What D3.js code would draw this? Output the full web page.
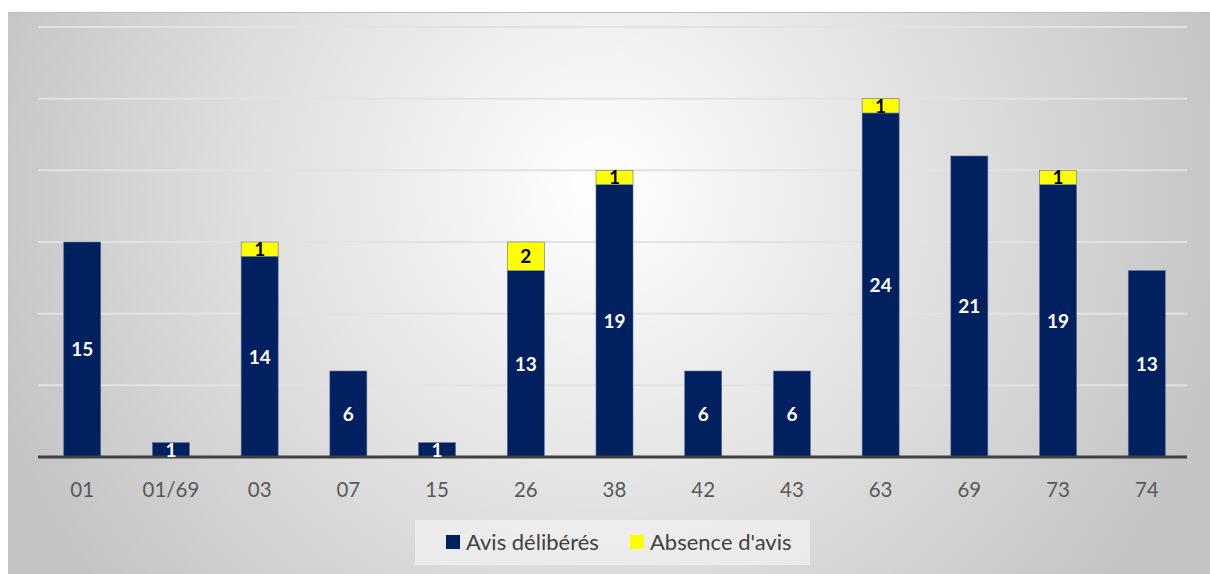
<!DOCTYPE html>
<html>
<head>
<meta charset="utf-8">
<script src="https://cdn.jsdelivr.net/npm/d3@7"></script>
<style>
  body { margin: 0; background: #fff; }
  svg { display: block; font-family: Lato, "Open Sans", sans-serif; }
</style>
</head>
<body>
<div id="chart"></div>
<script>
// chart values
const categories = ["01", "01/69", "03", "07", "15", "26", "38", "42", "43", "63", "69", "73", "74"];
const avisDeliberes = [15, 1, 14, 6, 1, 13, 19, 6, 6, 24, 21, 19, 13];
const absenceAvis = [0, 0, 1, 0, 0, 2, 1, 0, 0, 1, 0, 1, 0];
const seriesNames = ["Avis délibérés", "Absence d'avis"];
const yTicks = [0, 5, 10, 15, 20, 25, 30];

const W = 1210, H = 574;
const margin = { top: 27, right: 19, bottom: 117, left: 38 };
const colors = ["#002060", "#ffff00"];

const svg = d3.select("#chart").append("svg")
  .attr("width", W)
  .attr("height", H);

// background gradient
const defs = svg.append("defs");
const grad = defs.append("radialGradient")
  .attr("id", "bg")
  .attr("gradientUnits", "userSpaceOnUse")
  .attr("cx", 600).attr("cy", 190).attr("r", 640);
grad.append("stop").attr("offset", "0%").attr("stop-color", "#ffffff");
grad.append("stop").attr("offset", "100%").attr("stop-color", "#c4c4c4");

svg.append("rect")
  .attr("x", 8).attr("y", 12)
  .attr("width", W - 8).attr("height", H - 12)
  .attr("fill", "url(#bg)");
svg.append("line")
  .attr("x1", 8).attr("x2", W).attr("y1", 12.5).attr("y2", 12.5)
  .attr("stroke", "#bdbdbd").attr("stroke-width", 1);

const width = W - margin.left - margin.right;
const height = H - margin.top - margin.bottom;

const g = svg.append("g")
  .attr("transform", "translate(" + margin.left + "," + margin.top + ")");

const x = d3.scaleBand()
  .domain(categories)
  .range([0, width])
  .paddingInner(0.583)
  .paddingOuter(0.29);

const y = d3.scaleLinear()
  .domain([0, 30])
  .range([height, 0]);

// gridlines
g.append("g")
  .selectAll("line")
  .data(yTicks.slice(1))
  .enter()
  .append("line")
  .attr("x1", 0).attr("x2", width - 4)
  .attr("y1", d => y(d)).attr("y2", d => y(d))
  .attr("stroke", "#e2e2e2")
  .attr("stroke-width", 2);

const rows = categories.map((c, i) => ({ cat: c, avis: avisDeliberes[i], absence: absenceAvis[i] }));
const stacked = d3.stack().keys(["avis", "absence"])(rows);

const layers = g.selectAll(".layer")
  .data(stacked)
  .enter()
  .append("g")
  .attr("class", "layer")
  .attr("fill", (d, i) => colors[i]);

layers.selectAll("rect")
  .data(d => d.filter(p => p[1] - p[0] > 0))
  .enter()
  .append("rect")
  .attr("x", d => x(d.data.cat))
  .attr("y", d => y(d[1]))
  .attr("width", x.bandwidth())
  .attr("height", d => y(d[0]) - y(d[1]))
  .attr("stroke", "#5a6f96")
  .attr("stroke-width", 0.6);

// axis line
g.append("line")
  .attr("x1", 0).attr("x2", width - 4)
  .attr("y1", height).attr("y2", height)
  .attr("stroke", "#404040")
  .attr("stroke-width", 3);

// value labels
stacked.forEach((layer, li) => {
  g.append("g")
    .selectAll("text")
    .data(layer.filter(p => p[1] - p[0] > 0))
    .enter()
    .append("text")
    .attr("x", d => x(d.data.cat) + x.bandwidth() / 2)
    .attr("y", d => (y(d[0]) + y(d[1])) / 2)
    .attr("dy", "0.36em")
    .attr("text-anchor", "middle")
    .attr("font-size", 19)
    .attr("font-weight", "bold")
    .attr("fill", li === 0 ? "#ffffff" : "#000000")
    .text(d => d[1] - d[0]);
});

// category labels
g.append("g")
  .selectAll("text")
  .data(categories)
  .enter()
  .append("text")
  .attr("x", d => x(d) + x.bandwidth() / 2)
  .attr("y", height + 33)
  .attr("dy", "0.35em")
  .attr("text-anchor", "middle")
  .attr("font-size", 20.5)
  .attr("fill", "#595959")
  .text(d => d);

// legend
const legend = svg.append("g");
legend.append("rect")
  .attr("x", 415).attr("y", 520)
  .attr("width", 395).attr("height", 45)
  .attr("fill", "#f2f2f2")
  .attr("fill-opacity", 0.7);

const legendX = [446, 630];
const items = legend.selectAll(".item")
  .data(seriesNames)
  .enter()
  .append("g")
  .attr("class", "item")
  .attr("transform", (d, i) => "translate(" + legendX[i] + ",535)");

items.append("rect")
  .attr("width", 14).attr("height", 14)
  .attr("fill", (d, i) => colors[i]);

items.append("text")
  .attr("x", 20)
  .attr("y", 7)
  .attr("dy", "0.35em")
  .attr("font-size", 22)
  .attr("fill", "#404040")
  .text(d => d);
</script>
</body>
</html>
